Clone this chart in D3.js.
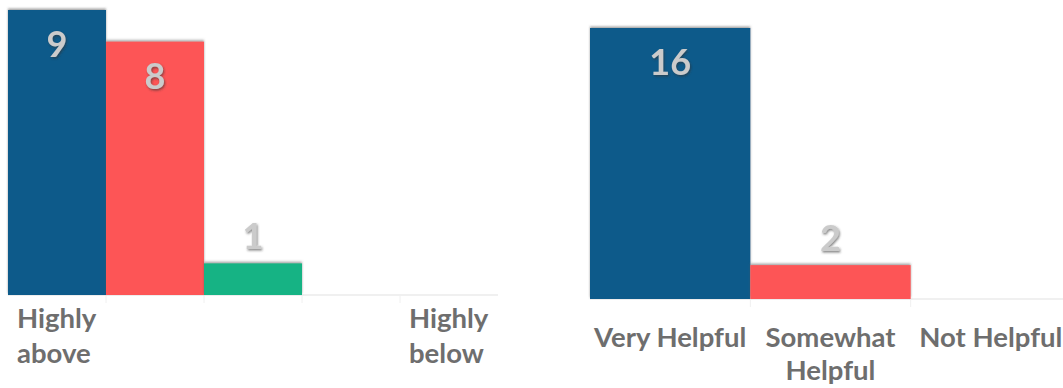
<!DOCTYPE html>
<html>
<head>
<meta charset="utf-8">
<script src="https://cdn.jsdelivr.net/npm/d3@7"></script>
<style>
  body { margin: 0; background: #fff; }
  svg { display: block; }
  text { font-family: Lato, "Open Sans", sans-serif; font-weight: bold; }
</style>
</head>
<body>
<svg id="chart" width="1063" height="388"></svg>
<script>
// left chart: rating vs average
const leftLabels = ["Highly above", "", "", "", "Highly below"];
const leftValues = [9, 8, 1, 0, 0];
const leftColors = ["#0f5a8a", "#fd5557", "#12b384", "#999", "#999"];

// right chart: helpfulness
const rightLabels = ["Very Helpful", "Somewhat Helpful", "Not Helpful"];
const rightValues = [16, 2, 0];
const rightColors = ["#0f5a8a", "#fd5557", "#12b384"];

const svg = d3.select("#chart");

const defs = svg.append("defs");
const shadow = defs.append("filter").attr("id", "barShadow")
  .attr("x", "-5%").attr("y", "-20%").attr("width", "110%").attr("height", "140%");
shadow.append("feDropShadow").attr("dx", 0).attr("dy", -1.5)
  .attr("stdDeviation", 1.2).attr("flood-color", "#555").attr("flood-opacity", 0.55);

const txtShadow = defs.append("filter").attr("id", "txtShadow");
txtShadow.append("feDropShadow").attr("dx", 1).attr("dy", 1.5)
  .attr("stdDeviation", 0.8).attr("flood-color", "#333").attr("flood-opacity", 0.6);

function drawChart(opts) {
  const g = svg.append("g");
  const idx = opts.values.map((d, i) => i);

  const x = d3.scaleBand().domain(idx).range([opts.x0, opts.x1]).padding(0);
  const y = d3.scaleLinear().domain([0, opts.max]).range([opts.base, opts.top]);

  // baseline axis
  const axis = d3.axisBottom(x).tickSize(0).tickFormat("");
  const ax = g.append("g").attr("transform", `translate(0,${opts.base})`).call(axis);
  ax.select(".domain").attr("stroke", "#e2e2e2").attr("stroke-width", 1.2)
    .attr("d", `M${opts.x0},0H${opts.axisEnd}`);

  // faint boundary ticks
  g.selectAll(".tick-line")
    .data(idx.slice(1))
    .join("line")
    .attr("x1", d => x(d)).attr("x2", d => x(d))
    .attr("y1", opts.base).attr("y2", opts.base + 8)
    .attr("stroke", "#f0f0f0");

  g.selectAll(".bar")
    .data(opts.values)
    .join("rect")
    .attr("x", (d, i) => x(i))
    .attr("width", x.bandwidth())
    .attr("y", d => y(d))
    .attr("height", d => opts.base - y(d))
    .attr("fill", (d, i) => opts.colors[i])
    .attr("filter", "url(#barShadow)")
    .style("display", d => d > 0 ? null : "none");

  g.selectAll(".val")
    .data(opts.values)
    .join("text")
    .attr("x", (d, i) => x(i) + x.bandwidth() / 2)
    .attr("y", d => (opts.base - y(d) > 60) ? y(d) + 47 : y(d) - 14)
    .attr("text-anchor", "middle")
    .attr("font-size", 36)
    .attr("fill", "#cbcbcb")
    .attr("filter", "url(#txtShadow)")
    .text(d => d > 0 ? d : "");

  const labels = g.selectAll(".cat")
    .data(opts.labels)
    .join("text")
    .attr("x", (d, i) => opts.align === "start" ? x(i) + 9 : x(i) + x.bandwidth() / 2)
    .attr("y", opts.labelY)
    .attr("text-anchor", opts.align)
    .attr("font-size", opts.fontSize)
    .attr("fill", "#6e6e6e");

  labels.each(function(d) {
    const words = opts.wrap(d);
    const t = d3.select(this);
    words.forEach((w, k) => {
      t.append("tspan")
        .attr("x", t.attr("x"))
        .attr("dy", k === 0 ? 0 : opts.lineH)
        .text(w);
    });
  });
}

drawChart({
  values: leftValues, labels: leftLabels, colors: leftColors,
  x0: 8, x1: 498, axisEnd: 498, base: 295, top: 10, max: 9,
  labelY: 328, lineH: 35, fontSize: 27.5, align: "start",
  wrap: s => s.split(" ")
});

drawChart({
  values: rightValues, labels: rightLabels, colors: rightColors,
  x0: 590, x1: 1071, axisEnd: 1063, base: 299, top: 28, max: 16,
  labelY: 347, lineH: 33, fontSize: 27.5, align: "middle",
  wrap: s => s === "Somewhat Helpful" ? ["Somewhat", "Helpful"] : [s]
});
</script>
</body>
</html>
